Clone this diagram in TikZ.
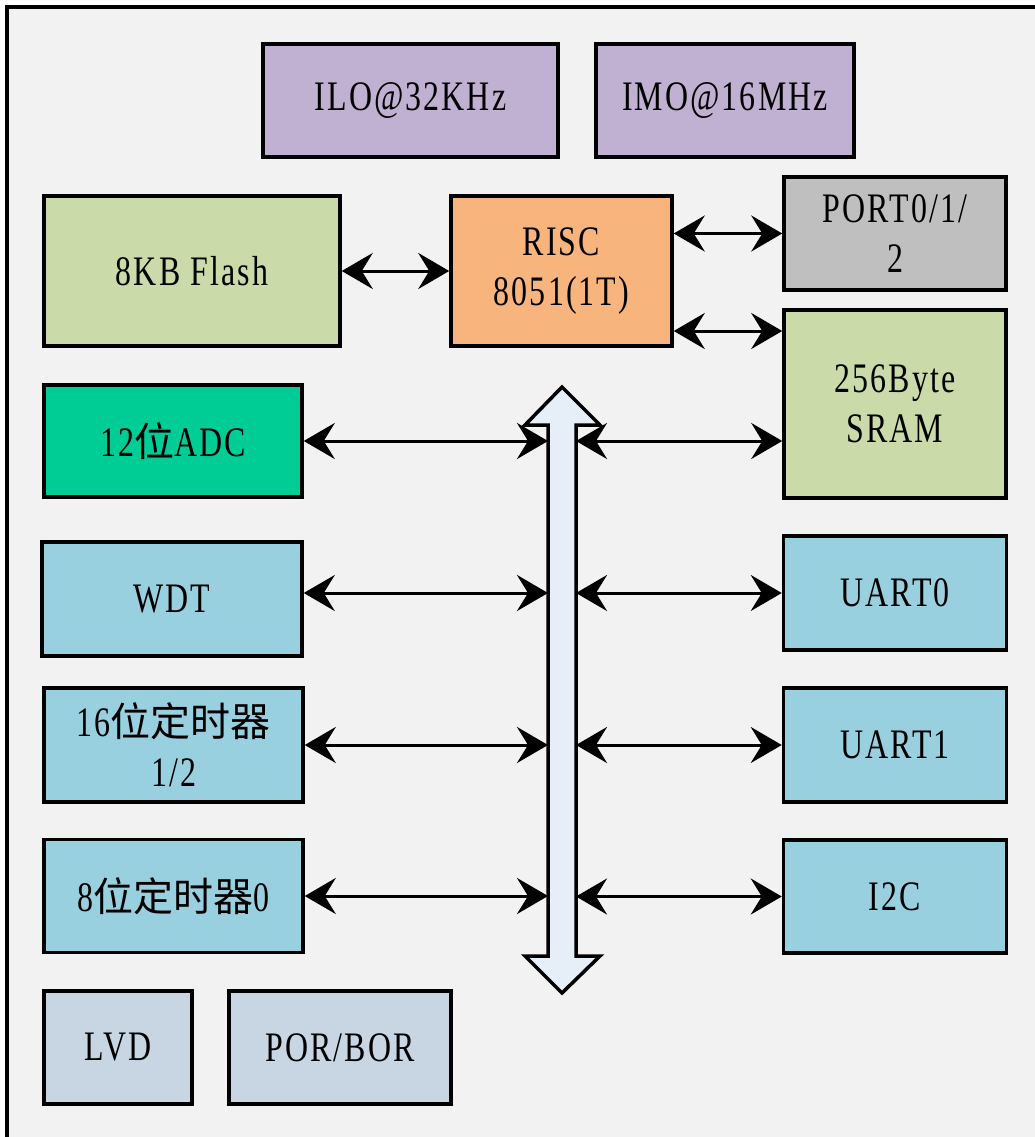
\documentclass[tikz,border=0pt]{standalone}
\usepackage{fontspec}
\setmainfont{Liberation Serif}[FakeStretch=0.76,LetterSpace=5]
\newfontfamily\cjk{Noto Sans CJK SC}
\newcommand\zh[1]{{\cjk\fontsize{40}{50}\selectfont #1}}
\usetikzlibrary{arrows.meta}

\definecolor{bgcol}{HTML}{F2F2F2}
\definecolor{clkcol}{HTML}{C0B1D2}
\definecolor{memcol}{HTML}{CBDAA9}
\definecolor{cpucol}{HTML}{F8B47D}
\definecolor{portcol}{HTML}{BFBFBF}
\definecolor{adccol}{HTML}{00CC96}
\definecolor{periphcol}{HTML}{99D0DF}
\definecolor{pwrcol}{HTML}{C8D6E4}
\definecolor{buscol}{HTML}{E6EEF8}

\tikzset{
  block/.style={draw,line width=3.5pt,inner sep=0pt,align=center,
    font=\fontsize{42}{50}\selectfont},
  biarrow/.style={line width=3pt,{Stealth[length=31pt,width=36pt,inset=11pt]}-{Stealth[length=31pt,width=36pt,inset=11pt]}},
}

\begin{document}
\begin{tikzpicture}[x=1pt,y=-1pt]
\path[use as bounding box] (0,0) rectangle (1035,1137);
\fill[bgcol] (7,7) rectangle (1035,1137);
\draw[line width=3.5pt] (1045,7)--(7,7)--(7,1147);

% clocks
\node[block,fill=clkcol,minimum width=295,minimum height=113] (ilo) at (410.5,100.5) {ILO@32KHz};
\node[block,fill=clkcol,minimum width=258,minimum height=113] (imo) at (725,100.5) {IMO@16MHz};

% core, memory
\node[block,fill=memcol,minimum width=296,minimum height=150] (flash) at (192,271) {8KB Flash};
\node[block,fill=cpucol,minimum width=221,minimum height=150] (risc) at (561.5,271) {RISC\\8051(1T)};
\node[block,fill=portcol,minimum width=222,minimum height=113] (port) at (895,233.5) {PORT0/1/\\2};
\node[block,fill=memcol,minimum width=222,minimum height=188] (sram) at (895,404) {256Byte\\SRAM};

% peripherals
\node[block,fill=adccol,minimum width=258,minimum height=112] (adc) at (173,441) {12\zh{位}ADC};
\node[block,fill=periphcol,minimum width=260,minimum height=114] (wdt) at (172,599) {WDT};
\node[block,fill=periphcol,minimum width=259,minimum height=114] (tmra) at (173.5,745) {16\zh{位定时器}\\1/2};
\node[block,fill=periphcol,minimum width=259,minimum height=113] (tmrb) at (173.5,896) {8\zh{位定时器}0};
\node[block,fill=periphcol,minimum width=223,minimum height=114] (uarta) at (895,593) {UART0};
\node[block,fill=periphcol,minimum width=223,minimum height=114] (uartb) at (895,745) {UART1};
\node[block,fill=periphcol,minimum width=223,minimum height=113] (iic) at (895,896.5) {I2C};

% power
\node[block,fill=pwrcol,minimum width=148,minimum height=113] (lvd) at (118,1047.5) {LVD};
\node[block,fill=pwrcol,minimum width=222,minimum height=113] (por) at (340,1047.5) {POR/BOR};

% internal bus
\draw[fill=buscol,line width=3.5pt,line join=miter]
  (562,387)--(600,425)--(576,425)--(576,956)--(600,956)--(562,993)
  --(525,956)--(548,956)--(548,425)--(525,425)--cycle;
\coordinate (busL) at (548,0);
\coordinate (busR) at (576,0);

% connections
\draw[biarrow] (flash.east) -- (risc.west);
\draw[biarrow] (risc.east |- port.west) -- (port.west);
\draw[biarrow] (risc.east |- 0,331) -- (sram.west |- 0,331);
\draw[biarrow] (adc.east) -- (busL |- adc.east);
\draw[biarrow] (busR |- adc.east) -- (sram.west |- adc.east);
\draw[biarrow] (wdt.east |- uarta.west) -- (busL |- uarta.west);
\draw[biarrow] (busR |- uarta.west) -- (uarta.west);
\draw[biarrow] (tmra.east) -- (busL |- tmra.east);
\draw[biarrow] (busR |- uartb.west) -- (uartb.west);
\draw[biarrow] (tmrb.east) -- (busL |- tmrb.east);
\draw[biarrow] (busR |- iic.west) -- (iic.west);
\end{tikzpicture}
\end{document}
